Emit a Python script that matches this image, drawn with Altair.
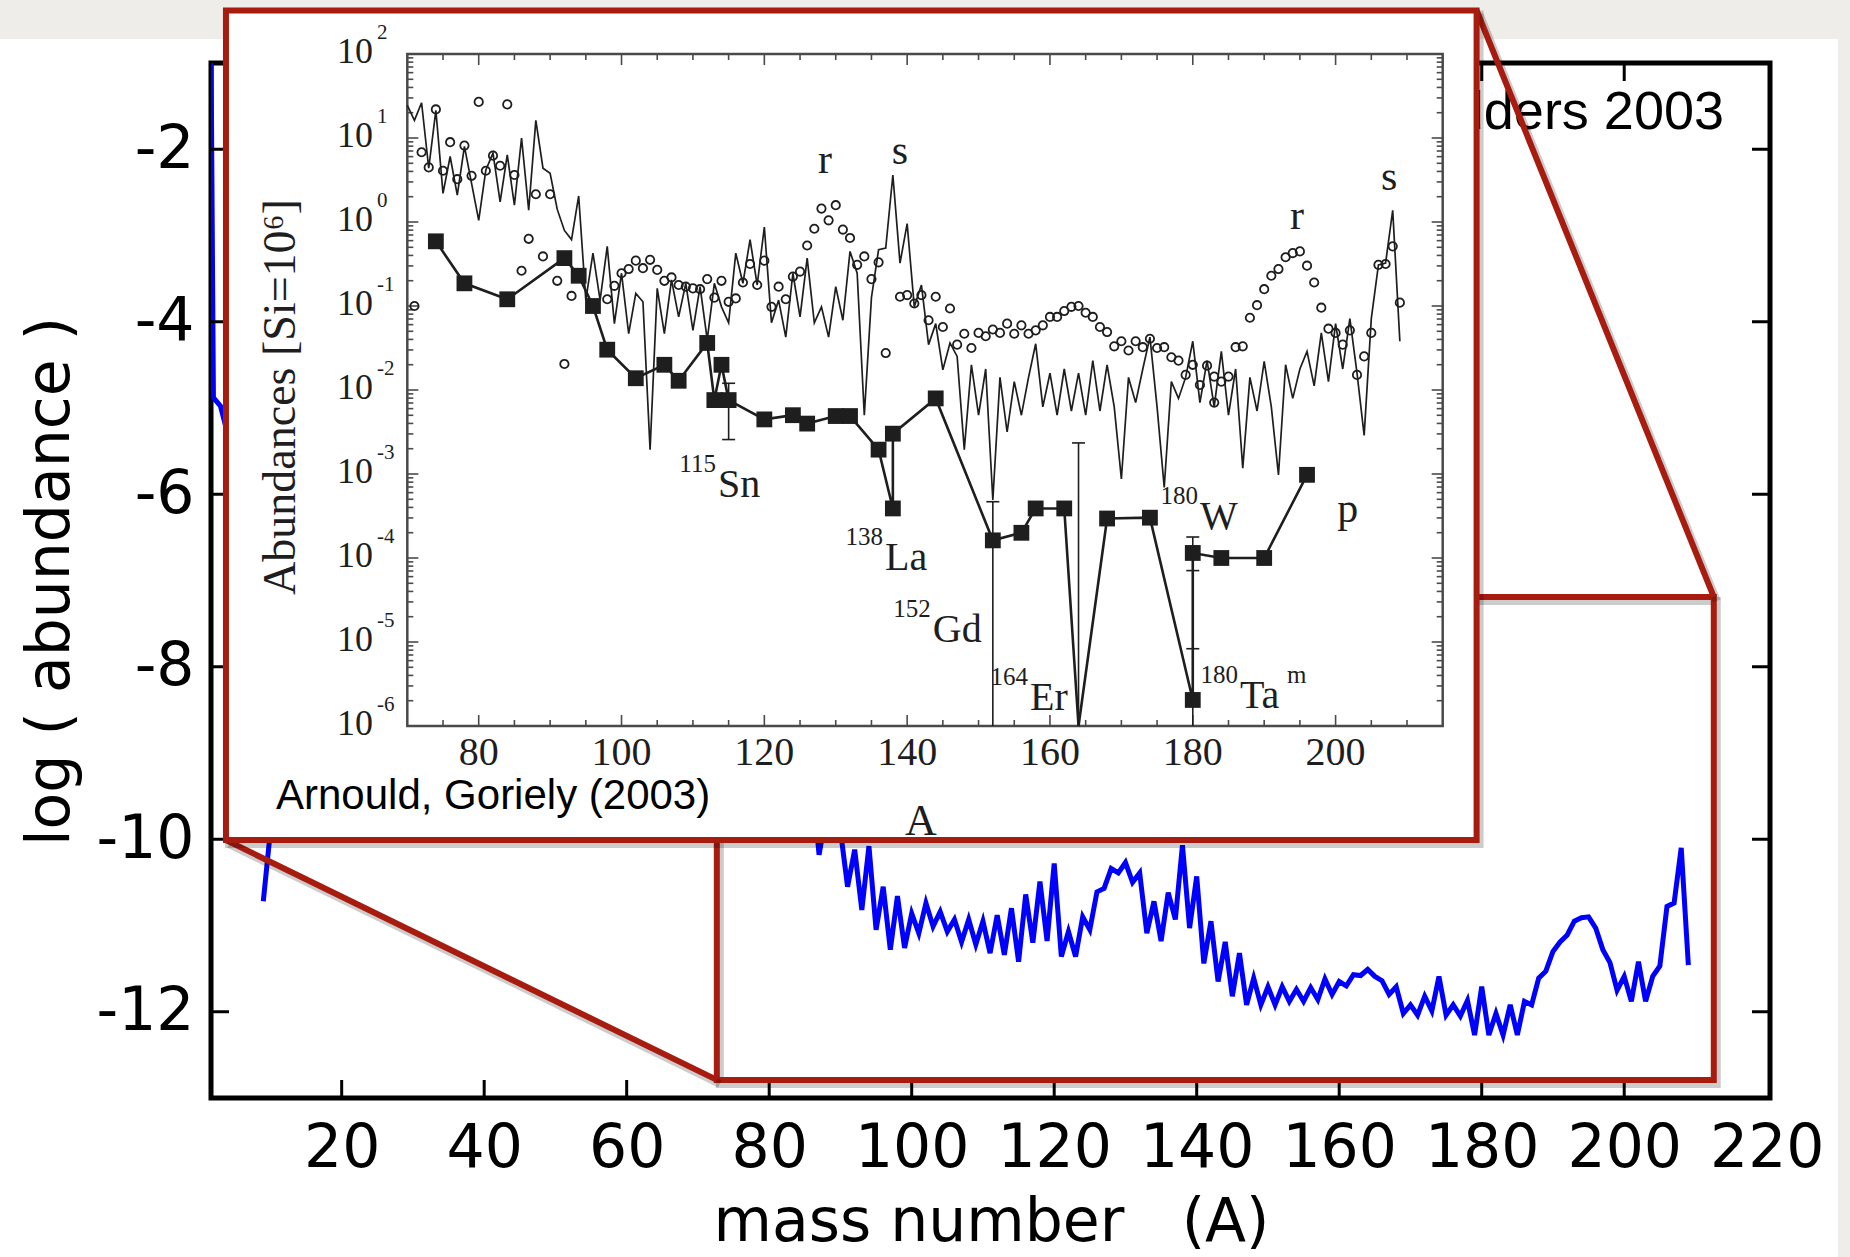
import altair as alt
import pandas as pd

RED = "#a81c10"
INK = "#1e1e1e"
AXG = "#4a4a4a"
BLUE = "#0000ff"

W, H = 1559, 1035

# ---------------- main chart: log(abundance) vs mass number (Lodders 2003) ----------------
main_x_domain = [1.66, 220.46]
main_y_domain = [-13.0, -1.0]
main_x_labels = [20, 40, 60, 80, 100, 120, 140, 160, 180, 200, 220]
main_x_ticks = [20, 40, 60, 80, 100, 120, 140, 160, 180, 200]
main_y_ticks = [-12, -10, -8, -6, -4, -2]

blue_seg1_A = [1, 2, 3, 4]
blue_seg1_v = [7.0, -4.88, -4.98, -5.3]
blue_seg2_A = [6, 7]
blue_seg2_v = [-9.8, -8.9]
blue_seg3_A = list(range(9, 210))
blue_seg3_v = [
    -10.72, -9.90, -9.30, -3.6, -5.5, -4.1, -6.7, -3.3, -6.7, -6.0, -7.6, -4.1,
    -6.5, -5.1, -5.7, -4.5, -5.5, -5.4, -5.6, -4.5, -5.8, -6.0,
    -6.6, -4.9, -6.9, -6.3, -6.6, -5.4, -7.1, -6.2, -6.9, -5.7,
    -8.2, -7.5, -8.4, -7.1, -8.9, -8.0, -8.1, -7.1, -8.3, -7.7,
    -8.0, -6.4, -7.5, -5.9, -6.5, -4.6, -6.0, -6.2, -7.1, -6.6,
    -8.0, -7.5, -8.0, -7.7, -8.3, -8.0, -8.9, -8.4, -9.0, -9.1,
    -9.2, -8.9, -9.4, -8.9, -9.7, -9.3, -9.9, -9.2, -9.6, -8.8,
    -9.6, -9.2, -9.3, -8.9, -9.6, -9.3, -10.18, -9.7, -9.3, -9.9,
    -10.55, -10.12, -10.82, -10.08, -11.05, -10.55, -11.28, -10.66, -11.26, -10.86,
    -11.09, -10.74, -11.01, -10.84, -11.07, -10.93, -11.19, -10.93, -11.22, -10.95,
    -11.32, -10.88, -11.34, -10.80, -11.42, -10.64, -11.20, -10.49, -11.18, -10.28,
    -11.36, -11.07, -11.36, -10.90, -11.05, -10.61, -10.57, -10.34, -10.39, -10.27,
    -10.50, -10.39, -11.09, -10.72, -11.18, -10.62, -10.93, -10.07, -11.03, -10.43,
    -11.44, -10.95, -11.65, -11.19, -11.82, -11.32, -11.92, -11.61, -11.92, -11.71,
    -11.92, -11.71, -11.88, -11.74, -11.88, -11.72, -11.86, -11.62, -11.80, -11.65,
    -11.70, -11.57, -11.58, -11.51, -11.59, -11.64, -11.80, -11.71, -12.02, -11.92,
    -12.04, -11.82, -11.99, -11.59, -12.04, -11.92, -12.05, -11.87, -12.27, -11.71,
    -12.27, -12.02, -12.27, -11.92, -12.27, -11.88, -11.92, -11.61, -11.53, -11.30,
    -11.19, -11.11, -10.95, -10.91, -10.90, -11.03, -11.28, -11.43, -11.75, -11.59,
    -11.88, -11.42, -11.88, -11.59, -11.47, -10.78, -10.74, -10.10, -11.46,
]
main_label = ["Lodders 2003"]

# zoom indicator geometry, in main-chart data units
zoom_box = {"A0": [72.65], "A1": [212.57], "v0": [-7.19], "v1": [-12.79]}
inset_box = {"A0": [3.76], "A1": [179.28], "v0": [-0.39], "v1": [-10.01]}
connectors = {"A0": [179.28, 3.76], "v0": [-0.39, -10.01], "A1": [212.57, 72.65], "v1": [-7.19, -12.79]}

# ---------------- inset: Arnould & Goriely (2003) ----------------
inset_x_domain = [70, 215]
inset_y_domain = [1e-6, 1e2]
inset_x_major = [80, 100, 120, 140, 160, 180, 200]
inset_x_minor = [75, 85, 90, 95, 105, 110, 115, 125, 130, 135, 145, 150, 155, 165, 170,
                 175, 185, 190, 195, 205, 210]
inset_decades = [-6, -5, -4, -3, -2, -1, 0, 1, 2]

zz_A = list(range(70, 210))
zz_log = [
    1.39, 1.21, 1.42, 0.64, 1.33, 0.34, 0.78, 0.32, 0.90, 0.46,
    0.02, 0.62, 0.82, 0.24, 0.80, 0.20, 1.00, 0.14, 1.21, 0.64,
    0.58, 0.15, -0.10, -0.21, 0.31, -0.93, -0.37, -0.93, -0.29, -1.21,
    -0.61, -1.33, -0.85, -0.95, -2.71, -0.79, -1.33, -0.69, -1.13, -0.73,
    -1.29, -0.77, -1.40, -0.73, -1.01, -1.20, -0.37, -0.73, -0.21, -0.75,
    -0.06, -1.20, -0.93, -1.37, -0.61, -1.13, -0.43, -1.20, -1.01, -1.37,
    -0.77, -1.17, -0.35, -0.61, -2.30, -0.90, -0.33, -0.31, 0.56, -0.49,
    -0.02, -1.01, -0.75, -1.46, -1.21, -1.76, -1.44, -1.60, -2.71, -1.70,
    -2.30, -1.75, -3.31, -1.85, -2.50, -1.90, -2.30, -1.85, -1.45, -2.20,
    -1.80, -2.30, -1.75, -2.25, -1.80, -2.30, -1.65, -2.25, -1.70, -2.20,
    -3.06, -1.85, -2.15, -1.75, -1.37, -2.20, -3.16, -1.90, -2.10, -1.85,
    -1.42, -2.15, -1.65, -2.20, -1.54, -2.30, -1.75, -2.93, -1.85, -2.25,
    -1.66, -2.20, -3.01, -1.70, -2.10, -1.75, -1.54, -1.95, -1.32, -1.90,
    -1.21, -1.75, -1.15, -1.80, -2.54, -1.15, -0.51, -0.49, 0.14, -1.42,
]

circ_A = [71, 72, 73, 74, 75, 76, 77, 78, 79, 80, 81, 82, 83, 84, 85, 86, 87, 88, 89, 90,
          91, 92, 93, 98, 99, 100, 101, 102, 103, 104, 105, 106, 107, 108, 109, 110,
          111, 112, 113, 114, 115, 116, 117, 118, 119, 120, 121, 122, 123, 124, 125,
          126, 127, 128, 129, 130, 131, 132, 133, 134, 135, 136, 137, 139, 140, 141,
          142, 143, 144, 145, 146, 147, 148, 149, 150, 151, 152, 153, 154, 155, 156,
          157, 158, 159, 160, 161, 162, 163, 164, 165, 166, 167, 168, 169, 170, 171,
          172, 173, 174, 175, 176, 177, 178, 179, 180, 181, 182, 183, 183, 184, 185,
          186, 187, 188, 189, 190, 191, 192, 193, 194, 195, 196, 197, 198, 199, 200,
          201, 202, 203, 204, 205, 206, 207, 208, 209]
circ_log = [-1.00, 0.83, 0.65, 1.34, 0.61, 0.95, 0.51, 0.91, 0.55, 1.43, 0.61, 0.79, 0.67,
            1.40, 0.56, -0.58, -0.20, 0.33, -0.41, 0.33,
            -0.70, -1.69, -0.88, -0.92, -0.76, -0.61, -0.56, -0.46, -0.55, -0.45, -0.57,
            -0.70, -0.66, -0.75, -0.77, -0.79,
            -0.80, -0.68, -0.90, -0.70, -0.95, -0.91, -0.72, -0.50, -0.75, -0.46, -1.01,
            -0.77, -0.92, -0.65, -0.59,
            -0.28, -0.08, 0.16, 0.02, 0.20, -0.09, -0.19, -0.51, -0.41, -0.68, -0.48,
            -1.56, -0.89, -0.87, -0.97,
            -0.87, -1.17, -0.89, -1.25, -1.03, -1.46, -1.33, -1.50, -1.32, -1.36, -1.28,
            -1.32, -1.21, -1.33, -1.23,
            -1.33, -1.29, -1.23, -1.13, -1.13, -1.06, -1.01, -1.00, -1.08, -1.13, -1.25,
            -1.31, -1.48, -1.42, -1.53,
            -1.42, -1.49, -1.39, -1.50, -1.49, -1.61, -1.65, -1.82, -1.70, -1.94, -1.71,
            -1.84, -2.15, -1.90, -1.84,
            -1.49, -1.48, -1.14, -0.99, -0.80, -0.64, -0.56, -0.42, -0.37, -0.35, -0.52,
            -0.72, -1.02, -1.27, -1.32,
            -1.46, -1.29, -1.82, -1.60, -1.32, -0.51, -0.50, -0.29, -0.96]

sq_A = [74, 78, 84, 92, 94, 96, 98, 102, 106, 108, 112, 113, 114, 115, 120, 124, 126, 130,
        132, 136, 138, 138, 144, 152, 156, 158, 162, 164, 168, 174, 180, 180, 184, 190, 196]
sq_log = [-0.23, -0.73, -0.92, -0.43, -0.64, -1.00, -1.52, -1.86, -1.70, -1.89, -1.44,
          -2.12, -1.70, -2.12, -2.35, -2.30, -2.40, -2.31, -2.31, -2.71, -3.41, -2.52,
          -2.10, -3.79, -3.70, -3.41, -3.41, -7.0, -3.53, -3.52, -5.69, -3.94, -4.00,
          -4.00, -3.01]

err_A = [115, 152, 164, 180, 180]
err_lo = [-2.59, -7.0, -7.0, -4.15, -7.0]
err_hi = [-1.92, -3.33, -2.63, -3.75, -5.08]

ann_text = ["r", "s", "r", "s", "p"]
ann_A = [128.5, 139.0, 194.6, 207.5, 201.7]
ann_log = [0.58, 0.69, -0.08, 0.38, -3.57]

iso_el = ["Sn", "La", "Gd", "Er", "W", "Ta"]
iso_mass = ["115", "138", "152", "164", "180", "180"]
iso_A = [113.5, 136.9, 143.6, 157.2, 181.0, 186.6]
iso_log = [-3.27, -4.14, -5.00, -5.81, -3.65, -5.79]
iso_isomer = ["", "", "", "", "", "m"]

inset_texts = {"xlab": ["A"], "ylab": ["Abundances [Si=10\u2076]"], "src": ["Arnould, Goriely (2003)"]}

# ---------------- data frames ----------------
blue_df = pd.concat([
    pd.DataFrame({"A": blue_seg1_A, "v": blue_seg1_v, "seg": 1}),
    pd.DataFrame({"A": blue_seg2_A, "v": blue_seg2_v, "seg": 2}),
    pd.DataFrame({"A": blue_seg3_A, "v": blue_seg3_v, "seg": 3}),
])
assert len(blue_seg3_A) == len(blue_seg3_v)
assert len(zz_A) == len(zz_log)
assert len(circ_A) == len(circ_log)
assert len(sq_A) == len(sq_log)

zz_df = pd.DataFrame({"A": zz_A, "val": [10.0 ** v for v in zz_log]})
circ_df = pd.DataFrame({"A": circ_A, "val": [10.0 ** v for v in circ_log]})
sq_df = pd.DataFrame({"A": sq_A, "val": [10.0 ** v for v in sq_log], "i": range(len(sq_A)),
                      "lg": sq_log})
err_df = pd.DataFrame({"A": err_A, "lo": [10.0 ** v for v in err_lo],
                       "hi": [10.0 ** v for v in err_hi]})
cap_df = pd.DataFrame({"A": err_A + err_A, "lg": err_hi + err_lo})
cap_df = cap_df[cap_df["lg"] > -6].copy()
cap_df["val"] = 10.0 ** cap_df["lg"]
ann_df = pd.DataFrame({"A": ann_A, "val": [10.0 ** v for v in ann_log], "t": ann_text})
iso_df = pd.DataFrame({"A": iso_A, "val": [10.0 ** v for v in iso_log], "el": iso_el,
                       "mass": iso_mass, "iso": iso_isomer})
dec_df = pd.DataFrame({"val": [10.0 ** d for d in inset_decades],
                       "exp": [str(d) for d in inset_decades]})
minor_vals = [k * 10.0 ** d for d in range(-6, 2) for k in range(2, 10)]
minor_df = pd.DataFrame({"val": minor_vals})
xmaj_df = pd.DataFrame({"A": inset_x_major})
xmin_df = pd.DataFrame({"A": inset_x_minor})

# ---------------- scales / axes ----------------
xs_m = alt.Scale(domain=main_x_domain, nice=False, zero=False)
ys_m = alt.Scale(domain=main_y_domain, nice=False, zero=False)
ax_x = alt.Axis(values=main_x_labels, title="mass number\u00a0\u00a0\u00a0(A)",
                labelFont="DejaVu Sans", labelFontSize=60, labelColor="black",
                labelBaseline="alphabetic", labelPadding=68, labelFlush=False,
                labelOverlap=False, labelExpr="datum.value + ''",
                ticks=False, tickSize=0, domain=False, grid=False, zindex=2,
                titleFont="DejaVu Sans", titleFontSize=60, titleFontWeight="normal",
                titleColor="black", titleX=780, titleY=142, titleAlign="center",
                titleBaseline="alphabetic", titleAngle=0)
ax_y = alt.Axis(values=main_y_ticks, title="log ( abundance )",
                labelFont="DejaVu Sans", labelFontSize=60, labelColor="black",
                labelAlign="right", labelBaseline="middle", labelPadding=17,
                labelFlush=False, labelOverlap=False, labelExpr="datum.value + ''",
                ticks=False, tickSize=0, domain=False, grid=False, zindex=2,
                titleFont="DejaVu Sans", titleFontSize=60, titleFontWeight="normal",
                titleColor="black", titleX=-143, titleY=518, titleAlign="center",
                titleBaseline="alphabetic", titleAngle=270)

xs_i = alt.Scale(domain=inset_x_domain, range=[196.3, 1231.7], nice=False, zero=False)
ys_i = alt.Scale(type="log", domain=inset_y_domain, range=[663, -9], nice=False, clamp=True)


def MX(f):
    return alt.X(f, type="quantitative", scale=xs_m, axis=ax_x)


def MY(f):
    return alt.Y(f, type="quantitative", scale=ys_m, axis=ax_y)


def IX(f):
    return alt.X(f, type="quantitative", scale=xs_i, axis=None)


def IY(f):
    return alt.Y(f, type="quantitative", scale=ys_i, axis=None)


one = pd.DataFrame({"k": [0]})

# ---------------- background panel ----------------
bg = alt.Chart(one).mark_rect(color="white").encode(
    x=alt.value(-211), x2=alt.value(1838 - 211), y=alt.value(39 - 63), y2=alt.value(1257 - 63 + 10)
)

# ---------------- main group ----------------
yt_df = pd.DataFrame({"v": main_y_ticks})
xt_df = pd.DataFrame({"A": main_x_ticks})
box = alt.Chart(one).mark_rect(fill="white", fillOpacity=0, stroke="black", strokeWidth=5).encode(
    x=alt.value(0), x2=alt.value(W), y=alt.value(0), y2=alt.value(H))
blue = alt.Chart(blue_df).mark_line(color=BLUE, strokeWidth=5, clip=True).encode(
    x=MX("A"), y=MY("v"), detail="seg:N")
tl = alt.Chart(yt_df).mark_rule(color="black", strokeWidth=3).encode(
    y=MY("v"), x=alt.value(0), x2=alt.value(18))
tr = alt.Chart(yt_df).mark_rule(color="black", strokeWidth=3).encode(
    y=MY("v"), x=alt.value(W - 18), x2=alt.value(W))
tb = alt.Chart(xt_df).mark_rule(color="black", strokeWidth=3).encode(
    x=MX("A"), y=alt.value(H - 18), y2=alt.value(H))
tt = alt.Chart(xt_df).mark_rule(color="black", strokeWidth=3).encode(
    x=MX("A"), y=alt.value(0), y2=alt.value(18))
lodders = alt.Chart(pd.DataFrame({"t": main_label})).mark_text(
    font="Liberation Sans", fontSize=54, align="right", baseline="alphabetic", color="black"
).encode(x=alt.value(1513), y=alt.value(66), text="t:N")

zb_df = pd.DataFrame(zoom_box)
ib_df = pd.DataFrame(inset_box)
cn_df = pd.DataFrame(connectors)
sh = dict(xOffset=3, x2Offset=3, yOffset=4, y2Offset=4)
zb_sh = alt.Chart(zb_df).mark_rect(fill="white", fillOpacity=0, stroke="#000000", strokeOpacity=0.2,
                                   strokeWidth=8, **sh).encode(
    x=MX("A0"), x2="A1:Q", y=MY("v0"), y2="v1:Q")
zb = alt.Chart(zb_df).mark_rect(fill="white", fillOpacity=0, stroke=RED, strokeWidth=6).encode(
    x=MX("A0"), x2="A1:Q", y=MY("v0"), y2="v1:Q")
cn_sh = alt.Chart(cn_df).mark_rule(color="#000000", opacity=0.2, strokeWidth=8, **sh).encode(
    x=MX("A0"), x2="A1:Q", y=MY("v0"), y2="v1:Q")
cn = alt.Chart(cn_df).mark_rule(color=RED, strokeWidth=6).encode(
    x=MX("A0"), x2="A1:Q", y=MY("v0"), y2="v1:Q")
ib_sh = alt.Chart(ib_df).mark_rect(fill="#000000", fillOpacity=0.0, stroke="#000000",
                                   strokeOpacity=0.2, strokeWidth=8, **sh).encode(
    x=MX("A0"), x2="A1:Q", y=MY("v0"), y2="v1:Q")
ib = alt.Chart(ib_df).mark_rect(fill="white", stroke=RED, strokeWidth=6).encode(
    x=MX("A0"), x2="A1:Q", y=MY("v0"), y2="v1:Q")

main = alt.layer(box, blue, tl, tr, tb, tt, lodders, zb_sh, zb, cn_sh, cn, ib_sh, ib)

# ---------------- inset group ----------------
frame_df = pd.DataFrame({"x0": [inset_x_domain[0]], "x1": [inset_x_domain[1]],
                         "y0": [inset_y_domain[0]], "y1": [inset_y_domain[1]]})
iframe = alt.Chart(frame_df).mark_rect(fill="white", fillOpacity=0, stroke=AXG, strokeWidth=2.5).encode(
    x=IX("x0"), x2="x1:Q", y=IY("y0"), y2="y1:Q")

IB, IT, IL, IR = 663, -9, 196.3, 1231.7
tick_style = dict(color=AXG, strokeWidth=1.6)
xt_b_maj = alt.Chart(xmaj_df).mark_rule(**tick_style).encode(x=IX("A"), y=alt.value(IB), y2=alt.value(IB - 11))
xt_b_min = alt.Chart(xmin_df).mark_rule(**tick_style).encode(x=IX("A"), y=alt.value(IB), y2=alt.value(IB - 6))
xt_t_maj = alt.Chart(xmaj_df).mark_rule(**tick_style).encode(x=IX("A"), y=alt.value(IT), y2=alt.value(IT + 11))
xt_t_min = alt.Chart(xmin_df).mark_rule(**tick_style).encode(x=IX("A"), y=alt.value(IT), y2=alt.value(IT + 6))
yt_l_maj = alt.Chart(dec_df).mark_rule(**tick_style).encode(y=IY("val"), x=alt.value(IL), x2=alt.value(IL + 11))
yt_l_min = alt.Chart(minor_df).mark_rule(**tick_style).encode(y=IY("val"), x=alt.value(IL), x2=alt.value(IL + 6))
yt_r_maj = alt.Chart(dec_df).mark_rule(**tick_style).encode(y=IY("val"), x=alt.value(IR - 11), x2=alt.value(IR))
yt_r_min = alt.Chart(minor_df).mark_rule(**tick_style).encode(y=IY("val"), x=alt.value(IR - 6), x2=alt.value(IR))

zz = alt.Chart(zz_df).mark_line(color=INK, strokeWidth=1.7).encode(x=IX("A"), y=IY("val"))
circ = alt.Chart(circ_df).mark_point(shape="circle", filled=False, color=INK, strokeWidth=1.8,
                                     size=70, opacity=1).encode(x=IX("A"), y=IY("val"))
sq_line = alt.Chart(sq_df).mark_line(color=INK, strokeWidth=2.6).encode(
    x=IX("A"), y=IY("val"), order="i:Q")
sq_pts = alt.Chart(sq_df).transform_filter("datum.lg > -6").mark_square(
    filled=True, color=INK, size=250, opacity=1).encode(x=IX("A"), y=IY("val"))
errs = alt.Chart(err_df).mark_rule(color=INK, strokeWidth=1.6).encode(
    x=IX("A"), y=IY("lo"), y2="hi:Q")
caps = alt.Chart(cap_df).mark_tick(orient="horizontal", size=13, thickness=1.6, color=INK,
                                   opacity=1).encode(x=IX("A"), y=IY("val"))

serif = "Liberation Serif"
ann = alt.Chart(ann_df).mark_text(font=serif, fontSize=42, align="center", baseline="alphabetic",
                                  color=INK).encode(x=IX("A"), y=IY("val"), text="t:N")
iso_el_t = alt.Chart(iso_df).mark_text(font=serif, fontSize=40, align="left", baseline="alphabetic",
                                       color=INK).encode(x=IX("A"), y=IY("val"), text="el:N")
iso_m_t = alt.Chart(iso_df).mark_text(font=serif, fontSize=25, align="right", baseline="alphabetic",
                                      dx=-2, dy=-25, color=INK).encode(x=IX("A"), y=IY("val"), text="mass:N")
iso_i_t = alt.Chart(iso_df).mark_text(font=serif, fontSize=25, align="left", baseline="alphabetic",
                                      dx=47, dy=-25, color=INK).encode(x=IX("A"), y=IY("val"), text="iso:N")

xl = alt.Chart(xmaj_df).mark_text(font=serif, fontSize=40, align="center", baseline="alphabetic",
                                  color=INK).encode(x=IX("A"), y=alt.value(702), text="A:Q")
yl10 = alt.Chart(dec_df).mark_text(font=serif, fontSize=36, align="right", baseline="alphabetic",
                                   dy=9, color=INK).encode(y=IY("val"), x=alt.value(162), text=alt.value("10"))
ylexp = alt.Chart(dec_df).mark_text(font=serif, fontSize=21, align="left", baseline="alphabetic",
                                    dy=-15, color=INK).encode(y=IY("val"), x=alt.value(166), text="exp:N")
xlab = alt.Chart(pd.DataFrame({"t": inset_texts["xlab"]})).mark_text(
    font=serif, fontSize=44, align="center", baseline="alphabetic", color=INK
).encode(x=alt.value(710), y=alt.value(772), text="t:N")
ylab = alt.Chart(pd.DataFrame({"t": inset_texts["ylab"]})).mark_text(
    font=serif, fontSize=46, align="center", baseline="alphabetic", angle=270, color=INK
).encode(x=alt.value(84), y=alt.value(334), text="t:N")
src = alt.Chart(pd.DataFrame({"t": inset_texts["src"]})).mark_text(
    font="Liberation Sans", fontSize=42, align="left", baseline="alphabetic", color="black"
).encode(x=alt.value(65), y=alt.value(746), text="t:N")

inset = alt.layer(iframe, xt_b_maj, xt_b_min, xt_t_maj, xt_t_min, yt_l_maj, yt_l_min, yt_r_maj,
                  yt_r_min, zz, circ, errs, caps, sq_line, sq_pts, ann, iso_el_t, iso_m_t, iso_i_t,
                  xl, yl10, ylexp, xlab, ylab, src)

chart = alt.layer(bg, main, inset).resolve_scale(x="independent", y="independent").properties(
    width=W, height=H,
    padding={"left": 211, "top": 63, "right": 80, "bottom": 159},
    autosize=alt.AutoSizeParams(type="none"),
).configure(background="#efedea").configure_view(strokeWidth=0)

chart.save("out.html", embed_options={"renderer": "svg", "actions": False})
